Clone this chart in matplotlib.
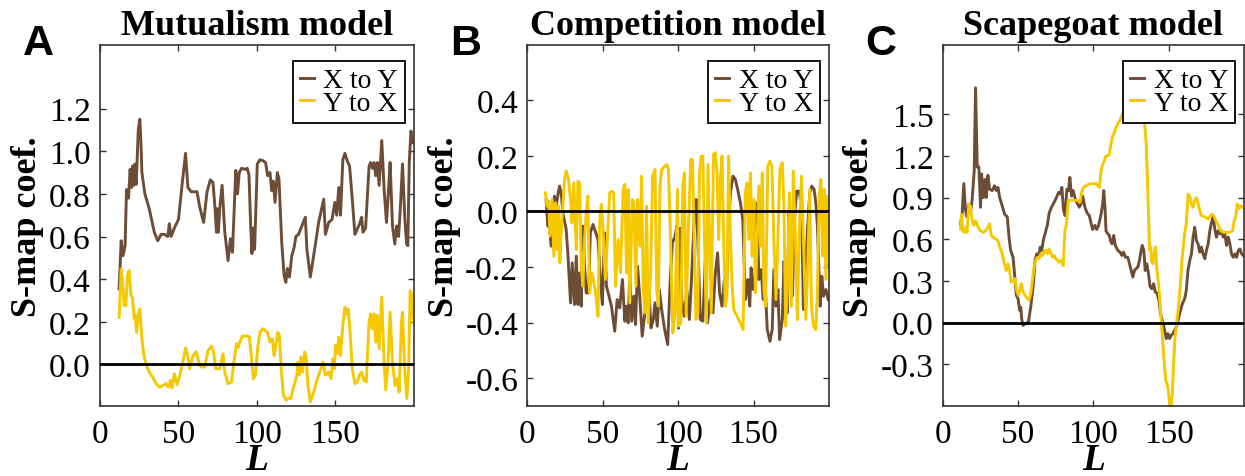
import matplotlib
matplotlib.use("Agg")
import matplotlib.pyplot as plt
from matplotlib.ticker import FormatStrFormatter

plt.rcParams["font.family"] = ["Liberation Serif", "DejaVu Serif"]
plt.rcParams["axes.unicode_minus"] = False

BROWN = "#6E4D36"
YELLOW = "#F6C800"

# --- Mutualism model ---
mut_xy_L = [12.2, 13.5, 14.7, 16.0, 16.9, 18.2, 19.2, 20.1, 20.7, 21.6, 22.2, 23.1, 24.4, 25.4,
            26.1, 26.7, 28.6, 31.4, 34.6, 36.8, 38.9, 41.0, 43.2, 44.2, 45.3, 47.4, 50.0, 52.4,
            54.5, 56.0, 58.1, 61.8, 63.5, 66.0, 68.2, 70.3, 72.0, 73.3, 74.2, 74.6, 75.4, 76.3,
            77.8, 79.5, 81.6, 83.1, 84.4, 86.5, 87.6, 88.7, 90.2, 92.7, 93.8, 94.9, 96.0, 96.8,
            97.7, 98.5, 100.2, 101.9, 104.0, 105.5, 106.8, 108.3, 109.4, 110.4, 111.5, 113.0,
            114.0, 115.8, 117.3, 118.4, 119.4, 120.7, 122.2, 123.7, 124.8, 126.5, 128.6, 130.8,
            131.8, 134.0, 136.1, 139.3, 142.5, 143.6, 145.7, 147.8, 149.6, 150.8, 152.1, 153.2,
            154.7, 156.0, 157.5, 159.0, 160.7, 162.4, 163.9, 165.4, 166.7, 167.5, 169.2, 171.4,
            172.4, 173.5, 174.6, 175.6, 176.7, 177.8, 179.5, 181.0, 182.5, 183.7, 184.8, 186.3,
            187.8, 188.9, 190.2, 191.3, 192.7, 194.2, 195.3, 196.1, 197.0, 198.1, 199.1]
mut_xy = [0.354, 0.58, 0.51, 0.557, 0.82, 0.78, 0.915, 0.83, 0.93, 0.84, 0.94, 0.845, 1.10, 1.15,
          1.04, 0.90, 0.80, 0.73, 0.62, 0.58, 0.61, 0.61, 0.60, 0.66, 0.60, 0.64, 0.68, 0.85,
          0.99, 0.83, 0.81, 0.81, 0.74, 0.666, 0.81, 0.866, 0.853, 0.73, 0.62, 0.73, 0.62, 0.735,
          0.84, 0.62, 0.487, 0.59, 0.526, 0.91, 0.80, 0.90, 0.92, 0.915, 0.92, 0.89, 0.65, 0.52,
          0.64, 0.54, 0.94, 0.96, 0.955, 0.947, 0.885, 0.90, 0.815, 0.86, 0.76, 0.90,
          0.87, 0.57, 0.416, 0.385, 0.45, 0.41, 0.51, 0.55, 0.60, 0.61, 0.65, 0.69,
          0.54, 0.41, 0.51, 0.666, 0.775, 0.61, 0.666, 0.68, 0.76, 0.70, 0.83, 0.70,
          0.96, 0.99, 0.955, 0.93, 0.775, 0.61, 0.635, 0.66, 0.69, 0.62, 0.64, 0.93,
          0.947, 0.92, 0.947, 0.885, 0.947, 0.84, 1.05, 0.82, 0.666, 0.807, 0.947, 0.65,
          0.565, 0.65, 0.60, 0.73, 0.94, 0.68, 0.565, 0.557, 0.947, 1.095, 1.04]

mut_yx_L = [12.2, 13.5, 14.7, 15.4, 16.5, 17.5, 18.6, 19.7, 20.7, 21.8, 22.4, 23.3, 24.4, 25.4,
            26.7, 27.8, 29.3, 31.4, 33.6, 35.7, 37.8, 40.0, 42.1, 43.6, 44.9, 45.9, 47.4, 49.0,
            50.6, 52.8, 54.5, 56.0, 57.1, 59.2, 61.3, 63.0, 64.5, 66.7, 68.8, 71.0, 72.4, 73.7,
            76.3, 78.4, 79.5, 81.6, 83.8, 85.3, 87.0, 88.0, 89.1, 90.8, 93.4, 95.1, 96.6, 97.7,
            99.0, 100.4, 101.9, 103.4, 105.1, 106.6, 108.3, 109.8, 110.9, 112.0, 113.2, 114.3,
            115.4, 116.9, 118.6, 120.1, 121.6, 122.8, 124.3, 125.4, 126.1, 126.9, 128.0, 129.0,
            130.3, 131.2, 132.5, 134.0, 136.1, 138.2, 140.8, 142.1, 143.6, 145.7, 147.2, 148.3,
            149.3, 150.0, 151.1, 152.1, 153.2, 154.7, 156.0, 157.0, 158.1, 159.2, 160.7, 162.4,
            163.9, 165.4, 166.7, 168.2, 169.6, 171.4, 172.4, 173.5, 174.6, 175.6, 176.7, 177.8,
            179.5, 181.0, 182.0, 183.5, 184.8, 186.3, 188.0, 189.5, 190.6, 192.0, 192.7, 194.2,
            195.5, 196.6, 197.6, 198.7, 199.6]
mut_yx = [0.22, 0.448, 0.354, 0.276, 0.276, 0.417, 0.44, 0.323, 0.315, 0.214, 0.23, 0.151, 0.237, 0.26,
          0.12, 0.05, 0.0, -0.036, -0.06, -0.09, -0.106, -0.10, -0.09, -0.106, -0.075, -0.11, -0.044, -0.095,
          -0.06, 0.011, 0.076, 0.04, -0.02, 0.04, 0.06, 0.011, -0.012, -0.012, 0.065, 0.086, 0.058, -0.02,
          -0.02, 0.05, -0.036, -0.09, -0.083, 0.011, 0.097, 0.08, 0.105, 0.133, 0.133, 0.13, 0.026, -0.067,
          -0.05, 0.073, 0.15, 0.167, 0.16, 0.15, 0.105, 0.12, 0.042, 0.089, 0.15, 0.136,
          -0.02, -0.145, -0.168, -0.158, -0.16, -0.12, -0.083, -0.05, 0.011, -0.05, 0.035, -0.036,
          0.058, 0.042, -0.10, -0.176, -0.13, -0.075, -0.02, 0.011, -0.05, -0.036, -0.067, 0.026,
          -0.02, 0.089, 0.05, 0.128, 0.042, 0.183, 0.268, 0.237, 0.26, 0.167, -0.02, -0.09,
          -0.083, -0.05, -0.036, -0.075, -0.083, 0.198, 0.237, 0.167, 0.237, 0.105, 0.23, 0.073,
          0.315, 0.011, -0.12, 0.0, 0.245, 0.011, -0.10, -0.067, -0.13, 0.198, 0.245, -0.036,
          -0.16, -0.02, 0.346, 0.323, 0.198]

# --- Competition model ---
comp_xy_L = [12.5, 13.6, 14.7, 15.8, 16.9, 18.0, 19.1, 20.2, 21.4, 22.5, 23.6, 25.8, 26.9, 28.7,
             29.8, 31.3, 32.5, 33.6, 34.7, 35.8, 36.9, 38.0, 39.1, 40.7, 41.8, 43.6, 45.4, 46.9,
             48.5, 49.8, 51.3, 52.5, 54.2, 55.8, 58.0, 59.6, 61.3, 63.1, 64.7, 65.8, 66.9, 68.0,
             69.3, 70.7, 71.8, 73.1, 74.7, 76.2, 78.0, 79.1, 80.7, 82.0, 83.6, 84.7, 86.2, 87.6,
             89.1, 90.9, 92.0, 93.1, 94.7, 96.2, 98.0, 99.3, 100.3, 101.2, 102.4, 104.0, 105.8,
             107.5, 109.1, 110.7, 112.0, 113.1, 114.7, 116.4, 118.0, 119.5, 121.3, 123.1, 124.7,
             126.2, 127.5, 129.1, 130.7, 132.0, 133.5, 134.7, 136.4, 138.0, 139.5, 141.3, 142.9,
             144.6, 146.2, 147.5, 148.4, 149.8, 150.9, 152.4, 153.5, 155.1, 156.4, 158.0, 159.1,
             160.9, 162.4, 163.5, 164.9, 166.2, 167.3, 169.1, 170.2, 171.3, 172.4, 173.5, 174.7,
             175.8, 177.3, 178.6, 180.2, 181.8, 183.1, 184.4, 185.8, 187.3, 188.6, 190.2, 191.3,
             192.4, 194.2, 195.3, 196.4, 198.0, 199.5]
comp_xy = [0.043, -0.053, -0.041, -0.125, -0.029, 0.055, 0.019, 0.055, 0.091, 0.067, -0.005, -0.065, -0.149, -0.329,
           -0.185, -0.335, -0.161, -0.335, -0.221, -0.341, -0.053, -0.197, -0.293, -0.293, -0.077, -0.047, -0.077, -0.101,
           -0.245, -0.335, -0.077, -0.269, -0.305, -0.341, -0.431, -0.317, -0.347, -0.245, -0.395, -0.341, -0.401, -0.221,
           -0.395, -0.305, -0.407, -0.197, -0.317, -0.449, -0.365, -0.221, -0.281, -0.419, -0.389, -0.329, -0.413, -0.281,
           -0.353, -0.419, -0.449, -0.479, -0.257, -0.113, -0.089, -0.05, -0.42, -0.06, -0.317, -0.377, -0.281,
           -0.389, -0.221, -0.029, 0.043, -0.101, -0.389, -0.395, -0.179, -0.401, -0.317, -0.365, -0.221,
           -0.149, -0.293, -0.341, -0.245, -0.305, -0.041, 0.067, 0.127, 0.115, 0.079, 0.031, -0.029,
           -0.317, -0.245, -0.341, -0.203, -0.281, -0.257, 0.031, -0.245, -0.209, -0.317, -0.293, -0.425,
           -0.467, -0.425, -0.209, -0.341, -0.281, -0.461, -0.389, -0.179, -0.281, -0.365, -0.005, -0.101,
           -0.305, -0.017, 0.073, 0.073, 0.019, -0.353, -0.245, -0.065, 0.067, 0.091, 0.079, 0.031,
           -0.053, -0.341, -0.233, -0.305, -0.281, -0.317]

comp_yx_L = [12.0, 13.1, 14.2, 15.1, 16.5, 17.6, 18.7, 19.8, 20.7, 21.6, 22.7, 23.6, 24.7, 25.8,
             27.3, 28.7, 29.6, 30.9, 32.5, 33.6, 34.7, 35.8, 36.9, 38.0, 39.1, 40.2, 41.3, 42.9,
             44.7, 45.8, 46.9, 48.0, 49.1, 50.2, 51.8, 53.1, 54.7, 56.0, 57.3, 58.5, 60.2, 61.8,
             63.6, 64.7, 65.8, 66.9, 68.0, 69.6, 70.7, 72.0, 73.1, 74.7, 75.8, 76.9, 78.0, 79.1,
             80.2, 81.8, 83.1, 84.7, 85.8, 86.9, 88.0, 89.1, 90.2, 91.3, 92.5, 93.6, 94.7, 96.5,
             98.0, 99.6, 100.2, 101.8, 103.1, 104.2, 105.3, 106.9, 108.4, 109.5, 110.7, 111.8,
             113.1, 114.2, 115.3, 116.4, 117.5, 118.7, 119.8, 120.9, 122.0, 123.5, 124.7, 125.8,
             126.9, 128.0, 129.1, 130.2, 131.3, 132.4, 133.5, 134.7, 135.8, 136.9, 139.1, 141.3,
             143.1, 144.6, 145.8, 146.9, 148.0, 149.1, 150.2, 151.3, 152.4, 153.5, 154.7, 155.8,
             156.9, 158.0, 159.5, 160.9, 162.2, 163.5, 164.9, 166.2, 167.5, 169.1, 170.2, 171.3,
             172.4, 173.8, 175.1, 176.4, 177.8, 179.1, 180.2, 181.8, 183.1, 184.7, 185.8, 187.3,
             188.4, 189.8, 191.3, 192.4, 193.5, 194.7, 195.8, 196.9, 198.0, 199.1, 200.0]
comp_yx = [0.067, 0.019, 0.037, -0.089, 0.043, -0.161, 0.031, -0.137, 0.019, -0.185, -0.053, 0.019, 0.115, 0.145,
           0.115, 0.043, -0.041, 0.103, -0.137, 0.109, 0.103, -0.197, -0.269, -0.101, -0.005, 0.055, -0.293, -0.221,
           -0.269, -0.317, -0.377, -0.041, 0.025, -0.065, -0.245, -0.101, 0.067, 0.073, 0.067, -0.269, -0.101, -0.221,
           0.079, 0.097, -0.221, 0.079, -0.329, 0.043, 0.031, -0.269, 0.043, -0.125, 0.127, -0.281, -0.365, 0.019,
           -0.401, -0.221, 0.127, 0.151, -0.281, -0.341, 0.091, 0.151, 0.157, 0.163, 0.169, 0.151, -0.041, -0.437,
           -0.365, 0.079, -0.413, -0.401, 0.091, 0.139, -0.377, -0.053, 0.187, 0.187, -0.101, -0.389,
           -0.365, 0.139, 0.199, 0.199, -0.101, -0.401, 0.169, -0.101, -0.365, 0.205, 0.211, 0.139,
           -0.101, 0.115, 0.199, -0.101, -0.341, -0.305, 0.199, -0.101, -0.257, -0.353, -0.377, -0.401,
           -0.425, 0.067, 0.103, -0.101, 0.139, -0.161, 0.043, -0.293, -0.101, 0.091, -0.125, 0.139,
           -0.281, -0.341, 0.163, 0.181, 0.163, -0.101, -0.317, -0.101, 0.151, 0.175, 0.019, -0.413,
           -0.281, 0.067, -0.341, 0.145, -0.101, -0.389, -0.101, 0.127, -0.101, -0.389, -0.221, 0.079,
           -0.341, -0.413, -0.425, -0.281, 0.043, 0.115, -0.161, 0.079, -0.245, 0.055, -0.197]

# --- Scapegoat model ---
scape_xy_L = [11.8, 12.9, 14.0, 15.1, 16.2, 17.3, 18.4, 19.5, 20.9, 21.8, 22.9, 24.0, 25.1, 25.8,
              26.9, 28.0, 28.9, 30.0, 31.1, 32.9, 34.4, 35.6, 36.7, 37.8, 39.5, 41.1, 42.9, 44.0,
              45.1, 46.7, 47.8, 48.9, 50.0, 51.1, 51.8, 52.4, 53.3, 55.1, 56.9, 58.4, 60.0, 61.3,
              62.4, 63.6, 64.7, 65.8, 66.9, 68.0, 69.6, 70.7, 72.2, 74.0, 75.5, 76.9, 78.0, 79.1,
              80.2, 81.3, 82.4, 83.5, 84.4, 85.5, 86.6, 88.0, 89.5, 90.7, 91.8, 92.9, 94.4, 95.8,
              97.3, 99.5, 101.1, 102.2, 103.5, 105.1, 106.2, 106.9, 107.7, 108.4, 109.5, 110.6,
              111.3, 112.4, 113.5, 114.6, 116.2, 117.7, 118.9, 120.0, 121.3, 122.9, 124.0, 125.1,
              126.2, 127.3, 128.4, 129.5, 130.6, 131.7, 132.4, 133.5, 134.4, 135.5, 136.6, 137.7,
              138.9, 140.0, 141.1, 142.4, 143.5, 144.6, 146.2, 147.3, 148.4, 149.5, 150.6, 151.7,
              152.8, 154.0, 155.1, 156.2, 157.3, 159.1, 160.6, 161.7, 162.8, 164.0, 165.1, 166.2,
              167.3, 168.4, 169.5, 170.6, 171.7, 172.8, 174.0, 175.1, 176.2, 177.3, 178.4, 179.5,
              180.6, 181.7, 182.8, 184.0, 185.1, 186.2, 187.3, 188.4, 189.5, 190.6, 191.7, 192.8,
              194.0, 195.1, 196.2, 197.3, 198.4, 199.5]
scape_xy = [0.71, 0.78, 1.0, 0.81, 0.76, 0.85, 0.79, 0.88, 1.09, 1.69, 1.12, 1.12, 0.83, 1.07,
            0.90, 1.03, 0.90, 1.06, 0.96, 0.95, 0.985, 0.95, 0.973, 0.90, 0.84, 0.78, 0.76, 0.615,
            0.52, 0.47, 0.33, 0.196, 0.172, 0.088, 0.11, 0.029, -0.02, -0.007, 0.005, 0.11, 0.256, 0.447,
            0.495, 0.47, 0.543, 0.52, 0.60, 0.64, 0.71, 0.79, 0.83, 0.866, 0.90, 0.937, 0.925, 0.973,
            0.81, 0.77, 0.96, 0.95, 1.045, 0.91, 0.95, 0.89, 0.854, 0.83, 0.854, 0.91, 0.83, 0.79,
            0.77, 0.67, 0.70, 0.67, 0.70, 0.78, 0.854, 0.95, 0.83, 0.66, 0.64, 0.627,
            0.59, 0.567, 0.627, 0.555, 0.52, 0.507, 0.483, 0.507, 0.47, 0.47, 0.423, 0.375,
            0.328, 0.375, 0.387, 0.40, 0.447, 0.52, 0.555, 0.52, 0.375, 0.423, 0.35, 0.256,
            0.244, 0.28, 0.22, 0.208, 0.16, 0.065, -0.007, -0.055, -0.115, -0.08, -0.115, -0.09,
            -0.08, -0.055, -0.031, 0.017, 0.065, 0.136, 0.172, 0.232, 0.375, 0.447, 0.495, 0.615,
            0.686, 0.59, 0.567, 0.507, 0.543, 0.495, 0.46, 0.52, 0.567, 0.66, 0.72, 0.76,
            0.675, 0.615, 0.66, 0.64, 0.66, 0.615, 0.64, 0.555, 0.615, 0.567, 0.495, 0.47,
            0.495, 0.47, 0.52, 0.53, 0.495, 0.483]

scape_yx_L = [11.8, 12.5, 13.3, 14.4, 15.5, 16.2, 17.3, 18.4, 19.5, 20.6, 21.8, 23.5, 25.1, 26.9,
              28.4, 30.0, 31.1, 32.2, 33.3, 35.1, 36.7, 37.8, 38.9, 40.0, 41.1, 42.2, 43.3, 44.4,
              45.5, 46.7, 48.0, 49.1, 50.2, 51.3, 52.2, 53.3, 54.7, 56.2, 57.3, 58.4, 59.5, 60.6,
              61.8, 62.9, 64.0, 65.1, 66.2, 67.3, 68.4, 69.5, 70.6, 71.7, 72.9, 74.0, 75.1, 76.2,
              77.3, 78.8, 80.0, 81.1, 82.2, 83.3, 85.1, 87.3, 89.5, 91.1, 92.2, 93.5, 95.1, 97.3,
              99.5, 101.7, 102.9, 104.0, 105.1, 106.2, 107.3, 108.4, 109.5, 110.6, 111.7, 112.9,
              114.0, 115.1, 116.2, 117.3, 120.0, 124.0, 128.0, 132.0, 135.1, 136.2, 137.3, 138.0,
              138.6, 139.5, 140.6, 141.3, 142.2, 143.3, 144.4, 145.5, 146.6, 148.0, 148.9, 149.7,
              150.6, 151.5, 152.4, 153.3, 154.2, 155.5, 156.9, 157.7, 158.8, 159.5, 160.6, 161.7,
              162.9, 164.0, 165.1, 166.2, 167.3, 168.4, 169.5, 170.6, 171.7, 174.0, 176.2, 178.4,
              179.9, 181.3, 182.9, 184.6, 186.2, 188.4, 190.6, 192.4, 193.5, 194.6, 195.5, 196.6,
              197.7, 199.0]
scape_yx = [0.675, 0.78, 0.66, 0.65, 0.686, 0.65, 0.854, 0.84, 0.734, 0.70, 0.734, 0.686, 0.66, 0.65,
            0.66, 0.686, 0.71, 0.627, 0.615, 0.603, 0.59, 0.543, 0.52, 0.47, 0.423, 0.375, 0.423, 0.375,
            0.29, 0.30, 0.316, 0.232, 0.196, 0.244, 0.28, 0.22, 0.196, 0.172, 0.165, 0.208, 0.30, 0.40,
            0.447, 0.47, 0.46, 0.495, 0.483, 0.507, 0.52, 0.495, 0.53, 0.50, 0.47, 0.483, 0.46, 0.447,
            0.435, 0.447, 0.41, 0.66, 0.71, 0.88, 0.88, 0.88, 0.88, 0.866, 0.937, 0.973, 0.985, 0.997,
            1.0, 1.0, 0.985, 0.973, 1.09, 1.14, 1.165, 1.20, 1.20, 1.21, 1.285, 1.345,
            1.37, 1.405, 1.43, 1.447, 1.52, 1.62, 1.68, 1.72, 1.285, 0.925, 0.52, 0.543,
            0.447, 0.423, 0.52, 0.543, 0.375, 0.28, 0.11, -0.055, -0.22, -0.414, -0.437, -0.486,
            -0.58, -0.63, -0.51, -0.294, -0.103, 0.017, 0.16, 0.256, 0.447, 0.52, 0.64, 0.71,
            0.925, 0.91, 0.854, 0.83, 0.88, 0.90, 0.854, 0.81, 0.77, 0.76, 0.746, 0.78,
            0.77, 0.734, 0.70, 0.66, 0.65, 0.65, 0.65, 0.66, 0.734, 0.76, 0.854, 0.82,
            0.84, 0.83]

PANELS = [
    dict(letter="A", title="Mutualism model",
         xy=(mut_xy_L, mut_xy), yx=(mut_yx_L, mut_yx),
         ylim=(-0.195, 1.5), yticks=[0.0, 0.2, 0.4, 0.6, 0.8, 1.0, 1.2],
         rect=[0.0803, 0.1468, 0.2522, 0.7575], ylabel_x=-0.177),
    dict(letter="B", title="Competition model",
         xy=(comp_xy_L, comp_xy), yx=(comp_yx_L, comp_yx),
         ylim=(-0.7, 0.6), yticks=[-0.6, -0.4, -0.2, 0.0, 0.2, 0.4],
         rect=[0.4235, 0.1468, 0.2423, 0.7575], ylabel_x=-0.22),
    dict(letter="C", title="Scapegoat model",
         xy=(scape_xy_L, scape_xy), yx=(scape_yx_L, scape_yx),
         ylim=(-0.6, 2.0), yticks=[-0.3, 0.0, 0.3, 0.6, 0.9, 1.2, 1.5],
         rect=[0.7572, 0.1468, 0.2420, 0.7575], ylabel_x=-0.221),
]


def draw_panel(fig, p):
    ax = fig.add_axes(p["rect"])

    ax.plot(*p["xy"], color=BROWN, lw=2.1, label="X to Y", zorder=2)
    ax.plot(*p["yx"], color=YELLOW, lw=2.1, label="Y to X", zorder=2)
    ax.axhline(0, color="black", lw=2, zorder=3)

    ax.set_xlim(0, 200)
    ax.set_ylim(*p["ylim"])
    ax.set_xticks([0, 50, 100, 150])
    ax.set_yticks(p["yticks"])
    ax.yaxis.set_major_formatter(FormatStrFormatter("%.1f"))

    ax.tick_params(direction="in", top=True, right=True, length=4.5, width=1,
                   labelsize=24, color="#333333")
    ax.tick_params(axis="x", pad=9)
    ax.tick_params(axis="y", pad=6.5)
    for spine in ax.spines.values():
        spine.set_color("#333333")
        spine.set_linewidth(1.2)

    ax.set_title(p["title"], fontsize=26, fontweight="bold", pad=7.5)
    ax.set_ylabel("S-map coef.", fontsize=26, fontweight="bold")
    ax.yaxis.set_label_coords(p["ylabel_x"], 0.5)
    ax.set_xlabel("L", fontsize=27, fontweight="bold", fontstyle="italic")
    ax.xaxis.set_label_coords(0.5, -0.1)

    leg = ax.legend(loc="upper right", bbox_to_anchor=(0.97, 0.955), borderaxespad=0,
                    fontsize=20, handlelength=0.5, handletextpad=0.35, borderpad=0.25,
                    labelspacing=-0.1, fancybox=False, framealpha=1)
    leg.get_frame().set_edgecolor("black")
    leg.get_frame().set_linewidth(1.3)
    leg.set_zorder(5)

    # panel letter in the upper-left corner
    x0 = p["rect"][0] - 77 / 1245
    fig.text(x0, 1 - 55 / 477, p["letter"], family="Liberation Sans",
             fontweight="bold", fontsize=31, ha="left", va="baseline")
    return ax


def main():
    fig = plt.figure(figsize=(12.45, 4.77), dpi=100)
    for p in PANELS:
        draw_panel(fig, p)
    fig.savefig("out.png", dpi=100)


if __name__ == "__main__":
    main()
